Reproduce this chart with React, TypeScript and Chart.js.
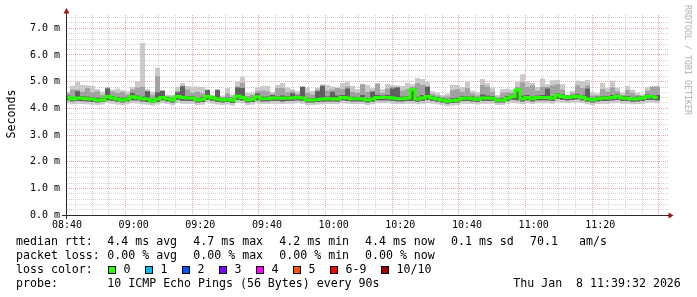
import React, { useEffect, useRef } from "react";
import { Chart, registerables } from "chart.js";

Chart.register(...registerables);

const MONO = "'DejaVu Sans Mono', monospace";

// time axis: minutes after 08:40, one smoke sample every 90 s
const STEP_MINUTES = 1.5;
const FIRST_SAMPLE = 0.15;
const X_SPAN = 180.6;
const Y_TOP = 7.5;

const xTickLabels = ["08:40", "09:00", "09:20", "09:40", "10:00", "10:20", "10:40", "11:00", "11:20"];
const yTickLabels = ["0.0 m", "1.0 m", "2.0 m", "3.0 m", "4.0 m", "5.0 m", "6.0 m", "7.0 m"];

// smoke (ms)
const smokeMax = [
  4.62, 4.85, 5.0, 4.88, 4.86, 4.84, 4.72, 4.62, 4.78, 4.7,
  4.74, 4.68, 4.64, 4.8, 5.0, 6.45, 4.72, 4.62, 5.52, 4.66,
  4.52, 4.5, 4.8, 4.95, 4.84, 4.82, 4.82, 4.8, 4.7, 4.5,
  4.72, 4.48, 4.76, 4.52, 5.0, 5.18, 4.58, 4.58, 4.78, 4.84,
  4.84, 4.62, 4.88, 4.95, 4.78, 4.72, 4.64, 4.82, 4.76, 4.65,
  4.78, 4.9, 4.88, 4.82, 4.78, 4.95, 5.0, 4.84, 4.72, 4.92,
  4.88, 4.76, 4.95, 4.72, 4.92, 4.88, 4.86, 4.84, 4.95, 4.9,
  5.14, 5.1, 5.0, 4.64, 4.58, 4.5, 4.55, 4.88, 4.88, 4.8,
  5.0, 4.66, 4.6, 5.1, 4.95, 4.78, 4.5, 4.72, 4.74, 4.7,
  5.0, 5.28, 5.0, 4.96, 4.8, 5.12, 4.9, 5.05, 5.06, 4.9,
  4.52, 4.66, 5.04, 5.02, 5.06, 4.6, 4.56, 4.96, 4.76, 5.04,
  4.78, 4.6, 4.84, 4.7, 4.58, 4.52, 4.8, 4.82, 4.82,
];
const smokeUpper = [
  4.55, 4.7, 4.7, 4.62, 4.76, 4.6, 4.64, 4.5, 4.78, 4.64,
  4.58, 4.62, 4.52, 4.7, 4.78, 4.8, 4.64, 4.5, 5.2, 4.66,
  4.46, 4.44, 4.64, 4.85, 4.7, 4.58, 4.62, 4.56, 4.7, 4.46,
  4.7, 4.42, 4.56, 4.44, 4.82, 4.96, 4.46, 4.5, 4.64, 4.66,
  4.64, 4.54, 4.76, 4.76, 4.6, 4.64, 4.54, 4.82, 4.58, 4.52,
  4.7, 4.86, 4.66, 4.7, 4.76, 4.72, 4.82, 4.62, 4.58, 4.9,
  4.62, 4.66, 4.92, 4.58, 4.74, 4.8, 4.8, 4.66, 4.72, 4.8,
  4.95, 4.88, 4.84, 4.54, 4.48, 4.44, 4.44, 4.68, 4.72, 4.62,
  4.76, 4.56, 4.48, 4.88, 4.82, 4.62, 4.42, 4.58, 4.6, 4.58,
  4.8, 4.98, 4.8, 4.86, 4.66, 4.8, 4.8, 4.86, 4.9, 4.7,
  4.48, 4.58, 4.86, 4.76, 4.86, 4.48, 4.48, 4.72, 4.62, 4.78,
  4.64, 4.5, 4.68, 4.58, 4.5, 4.46, 4.66, 4.82, 4.82,
];
const smokeDark = [
  4.48, 4.42, 4.64, 4.45, 4.44, 4.42, 4.4, 4.38, 4.74, 4.46,
  4.42, 4.4, 4.42, 4.58, 4.48, 4.44, 4.64, 4.34, 4.6, 4.66,
  4.42, 4.38, 4.6, 4.82, 4.46, 4.46, 4.38, 4.42, 4.68, 4.44,
  4.68, 4.38, 4.4, 4.36, 4.78, 4.76, 4.38, 4.4, 4.56, 4.44,
  4.44, 4.5, 4.46, 4.48, 4.46, 4.56, 4.48, 4.8, 4.38, 4.38,
  4.64, 4.84, 4.44, 4.62, 4.48, 4.5, 4.74, 4.44, 4.42, 4.5,
  4.38, 4.62, 4.5, 4.48, 4.5, 4.74, 4.78, 4.44, 4.46, 4.66,
  4.44, 4.5, 4.8, 4.46, 4.42, 4.38, 4.34, 4.38, 4.4, 4.46,
  4.46, 4.44, 4.4, 4.52, 4.48, 4.46, 4.36, 4.38, 4.46, 4.52,
  4.68, 4.48, 4.5, 4.44, 4.48, 4.5, 4.74, 4.46, 4.56, 4.52,
  4.48, 4.5, 4.54, 4.48, 4.74, 4.38, 4.44, 4.46, 4.46, 4.5,
  4.52, 4.46, 4.46, 4.42, 4.44, 4.46, 4.52, 4.5, 4.5,
];
const medianRtt = [
  4.41, 4.35, 4.39, 4.38, 4.36, 4.35, 4.3, 4.31, 4.44, 4.39,
  4.35, 4.3, 4.35, 4.43, 4.4, 4.36, 4.35, 4.27, 4.35, 4.41,
  4.36, 4.31, 4.44, 4.41, 4.39, 4.39, 4.31, 4.34, 4.45, 4.39,
  4.35, 4.31, 4.33, 4.3, 4.45, 4.41, 4.31, 4.34, 4.43, 4.36,
  4.36, 4.39, 4.39, 4.38, 4.39, 4.39, 4.41, 4.39, 4.31, 4.31,
  4.33, 4.35, 4.36, 4.36, 4.35, 4.41, 4.39, 4.36, 4.36, 4.36,
  4.31, 4.35, 4.41, 4.41, 4.41, 4.39, 4.36, 4.36, 4.39, 4.7,
  4.35, 4.39, 4.44, 4.39, 4.35, 4.31, 4.27, 4.29, 4.31, 4.38,
  4.39, 4.36, 4.33, 4.39, 4.39, 4.38, 4.3, 4.3, 4.38, 4.44,
  4.69, 4.36, 4.41, 4.36, 4.41, 4.41, 4.41, 4.38, 4.49, 4.44,
  4.41, 4.43, 4.45, 4.41, 4.35, 4.31, 4.36, 4.39, 4.39, 4.41,
  4.44, 4.39, 4.38, 4.35, 4.36, 4.39, 4.44, 4.43, 4.41,
];
const smokeLow = [
  4.3, 4.26, 4.28, 4.27, 4.26, 4.24, 4.22, 4.24, 4.3, 4.28,
  4.25, 4.22, 4.26, 4.3, 4.3, 4.26, 4.24, 4.2, 4.24, 4.3,
  4.26, 4.22, 4.32, 4.28, 4.28, 4.28, 4.22, 4.24, 4.32, 4.28,
  4.24, 4.22, 4.24, 4.2, 4.32, 4.3, 4.22, 4.24, 4.3, 4.26,
  4.26, 4.28, 4.28, 4.26, 4.28, 4.28, 4.3, 4.28, 4.22, 4.22,
  4.24, 4.25, 4.26, 4.26, 4.25, 4.3, 4.28, 4.26, 4.26, 4.26,
  4.22, 4.25, 4.3, 4.3, 4.3, 4.28, 4.26, 4.26, 4.28, 4.28,
  4.25, 4.28, 4.32, 4.28, 4.25, 4.22, 4.18, 4.2, 4.22, 4.28,
  4.28, 4.26, 4.24, 4.28, 4.28, 4.28, 4.22, 4.22, 4.28, 4.32,
  4.3, 4.26, 4.3, 4.26, 4.3, 4.3, 4.3, 4.28, 4.36, 4.32,
  4.3, 4.32, 4.34, 4.3, 4.25, 4.22, 4.26, 4.28, 4.28, 4.3,
  4.32, 4.28, 4.28, 4.25, 4.26, 4.28, 4.32, 4.32, 4.3,
];
const smokeMin = [
  4.18, 4.15, 4.17, 4.16, 4.15, 4.14, 4.12, 4.14, 4.2, 4.17,
  4.14, 4.12, 4.15, 4.19, 4.18, 4.15, 4.13, 4.1, 4.14, 4.19,
  4.16, 4.12, 4.2, 4.17, 4.17, 4.17, 4.12, 4.14, 4.21, 4.17,
  4.14, 4.12, 4.14, 4.1, 4.2, 4.19, 4.12, 4.14, 4.19, 4.16,
  4.16, 4.17, 4.17, 4.16, 4.17, 4.17, 4.19, 4.17, 4.12, 4.12,
  4.14, 4.15, 4.16, 4.16, 4.15, 4.19, 4.17, 4.16, 4.16, 4.16,
  4.12, 4.15, 4.19, 4.19, 4.19, 4.17, 4.16, 4.16, 4.17, 4.17,
  4.15, 4.17, 4.2, 4.17, 4.15, 4.12, 4.08, 4.1, 4.12, 4.17,
  4.17, 4.16, 4.14, 4.17, 4.17, 4.17, 4.12, 4.12, 4.17, 4.2,
  4.18, 4.16, 4.19, 4.16, 4.19, 4.19, 4.19, 4.17, 4.24, 4.21,
  4.19, 4.21, 4.22, 4.19, 4.15, 4.12, 4.16, 4.17, 4.17, 4.19,
  4.21, 4.17, 4.17, 4.15, 4.16, 4.17, 4.21, 4.21, 4.19,
];

const rttStats = ["4.4 ms avg", "4.7 ms max", "4.2 ms min", "4.4 ms now", "0.1 ms sd"];
const lossStats = ["0.00 % avg", "0.00 % max", "0.00 % min", "0.00 % now"];
const lossLabels = ["0", "1", "2", "3", "4", "5", "6-9", "10/10"];
const lossColors = ["#26ff00", "#00b8ff", "#0059ff", "#7e00ff", "#ff00ff", "#ff5500", "#ff0000", "#a10000"];

const MAJOR_GRID = "#eaa3a3";
const MINOR_GRID = "#d2d2d2";

const axesPlugin = {
  id: "rrdAxes",
  afterDraw(chart: any) {
    const { ctx, chartArea: a } = chart;
    ctx.save();
    ctx.setLineDash([]);
    ctx.strokeStyle = "#2a2a2a";
    ctx.lineWidth = 1;
    const lx = a.left - 0.5;
    const by = a.bottom + 0.5;
    ctx.beginPath();
    ctx.moveTo(lx, a.bottom + 4);
    ctx.lineTo(lx, a.top - 2);
    ctx.stroke();
    ctx.beginPath();
    ctx.moveTo(a.left - 5, by);
    ctx.lineTo(a.right, by);
    ctx.stroke();
    ctx.fillStyle = "#9c1414";
    ctx.beginPath();
    ctx.moveTo(lx - 3, a.top - 1.5);
    ctx.lineTo(lx + 3, a.top - 1.5);
    ctx.lineTo(lx, a.top - 7);
    ctx.closePath();
    ctx.fill();
    ctx.beginPath();
    ctx.moveTo(a.right - 0.5, by - 3);
    ctx.lineTo(a.right - 0.5, by + 3);
    ctx.lineTo(a.right + 4.5, by);
    ctx.closePath();
    ctx.fill();
    ctx.restore();
  },
};

const isWhole = (v: number) => Math.abs(v - Math.round(v)) < 1e-6;

function Txt(props: { x: number; y: number; children: any }) {
  return (
    <div
      style={{
        position: "absolute",
        left: props.x,
        top: props.y,
        whiteSpace: "pre",
        fontFamily: MONO,
        fontSize: 11.6,
        lineHeight: "14px",
        color: "#000",
      }}
    >
      {props.children}
    </div>
  );
}

export default function App() {
  const ref = useRef<HTMLCanvasElement | null>(null);

  useEffect(() => {
    document.body.style.margin = "0";
    const times = smokeMax.map((_, i) => FIRST_SAMPLE + i * STEP_MINUTES);
    const band = (lo: number[], hi: number[]) => times.map((x, i) => ({ x, y: [lo[i], hi[i]] }));
    const barCommon = {
      type: "bar" as const,
      grouped: false,
      barPercentage: 1,
      categoryPercentage: 1,
      borderWidth: 0,
      inflateAmount: 0,
    };
    const gridColor = (major: (v: number) => boolean) => (c: any) =>
      c.tick && major(c.tick.value) ? MAJOR_GRID : MINOR_GRID;

    const chart = new Chart(ref.current as HTMLCanvasElement, {
      type: "bar",
      data: {
        datasets: [
          { ...barCommon, label: "outer", data: band(smokeMin, smokeMax), backgroundColor: "#cacaca", order: 4 },
          { ...barCommon, label: "inner", data: band(smokeLow, smokeUpper), backgroundColor: "#a2a2a2", order: 3 },
          { ...barCommon, label: "core", data: band(smokeLow, smokeDark), backgroundColor: "#606060", order: 2 },
          {
            type: "line",
            label: "median rtt",
            data: times.map((x, i) => ({ x, y: medianRtt[i] })),
            borderColor: "#26ff00",
            borderWidth: 3,
            pointRadius: 0,
            stepped: "middle",
            fill: false,
            order: 1,
          },
        ] as any,
      },
      options: {
        responsive: false,
        animation: false,
        devicePixelRatio: 1,
        events: [],
        layout: { padding: { left: 0, top: 15, right: 28, bottom: 0 } },
        plugins: { legend: { display: false }, tooltip: { enabled: false } },
        scales: {
          x: {
            type: "linear",
            min: 0,
            max: X_SPAN,
            offset: false,
            afterFit: (s: any) => {
              s.height = 82;
              s.paddingLeft = 0;
              s.paddingRight = 0;
            },
            ticks: {
              stepSize: 5,
              autoSkip: false,
              includeBounds: false,
              maxRotation: 0,
              minRotation: 0,
              padding: 4,
              color: "#000",
              font: { family: MONO, size: 10 },
              callback: (v: any) => (v % 20 === 0 ? xTickLabels[v / 20] ?? "" : ""),
            },
            grid: { drawTicks: false, lineWidth: 1, color: gridColor((v) => v % 20 === 0) },
            border: { display: false, dash: [1, 1] },
          },
          y: {
            type: "linear",
            min: 0,
            max: Y_TOP,
            afterFit: (s: any) => {
              s.width = 67;
              s.paddingTop = 0;
              s.paddingBottom = 0;
            },
            ticks: {
              stepSize: 0.2,
              autoSkip: false,
              includeBounds: false,
              padding: 7,
              color: "#000",
              font: { family: MONO, size: 10 },
              callback: (v: any) => (isWhole(v) ? yTickLabels[Math.round(v)] ?? "" : ""),
            },
            grid: { drawTicks: false, lineWidth: 1, color: gridColor(isWhole) },
            border: { display: false, dash: [1, 1] },
          },
        },
      } as any,
      plugins: [axesPlugin],
    });
    return () => chart.destroy();
  }, []);

  const statX = [107.3, 193.3, 279.3, 365, 451];
  const rows = [234.3, 248, 262, 275.7];

  const legendItems: any[] = [];
  let bx = 108;
  lossLabels.forEach((lab, i) => {
    legendItems.push(
      <div
        key={"b" + i}
        style={{
          position: "absolute",
          left: bx,
          top: 266,
          width: 8,
          height: 8,
          boxSizing: "border-box",
          border: "1px solid #000",
          background: lossColors[i],
        }}
      />
    );
    legendItems.push(
      <Txt key={"l" + i} x={bx + 15.5} y={rows[2]}>
        {lab}
      </Txt>
    );
    bx += 15 + lab.length * 7 + 15;
  });

  return (
    <div style={{ position: "relative", width: 697, height: 297, overflow: "hidden", background: "#fff" }}>
      <canvas ref={ref} width={697} height={297} style={{ position: "absolute", left: 0, top: 0 }} />
      <div
        style={{
          position: "absolute",
          left: 11 - 50,
          top: 114 - 7,
          width: 100,
          height: 14,
          lineHeight: "14px",
          textAlign: "center",
          fontFamily: MONO,
          fontSize: 11.6,
          color: "#000",
          transform: "rotate(-90deg)",
        }}
      >
        Seconds
      </div>
      <div
        style={{
          position: "absolute",
          left: 688 - 70,
          top: 60 - 5,
          width: 140,
          height: 10,
          lineHeight: "10px",
          textAlign: "center",
          fontFamily: MONO,
          fontSize: 8.3,
          color: "#b0b0b0",
          whiteSpace: "pre",
          transform: "rotate(90deg)",
        }}
      >
        RRDTOOL / TOBI OETIKER
      </div>

      <Txt x={16} y={rows[0]}>median rtt:</Txt>
      {rttStats.map((s, i) => (
        <Txt key={"r" + i} x={statX[i]} y={rows[0]}>
          {s}
        </Txt>
      ))}
      <Txt x={530} y={rows[0]}>70.1</Txt>
      <Txt x={579} y={rows[0]}>am/s</Txt>

      <Txt x={16} y={rows[1]}>packet loss:</Txt>
      {lossStats.map((s, i) => (
        <Txt key={"p" + i} x={statX[i]} y={rows[1]}>
          {s}
        </Txt>
      ))}

      <Txt x={16} y={rows[2]}>loss color:</Txt>
      {legendItems}

      <Txt x={16} y={rows[3]}>probe:</Txt>
      <Txt x={107.3} y={rows[3]}>10 ICMP Echo Pings (56 Bytes) every 90s</Txt>
      <Txt x={513.3} y={rows[3]}>Thu Jan  8 11:39:32 2026</Txt>
    </div>
  );
}
